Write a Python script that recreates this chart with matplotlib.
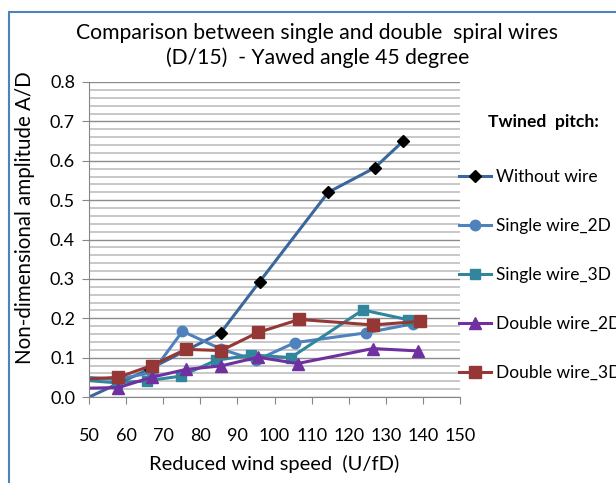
import matplotlib.pyplot as plt
import matplotlib.patches as patches
from matplotlib.ticker import MultipleLocator

plt.rcParams['font.family'] = ['Lato', 'DejaVu Sans']

# data
x_without = [48, 66.5, 85.5, 96, 114.5, 127, 134.7]
y_without = [-0.009, 0.072, 0.163, 0.293, 0.520, 0.582, 0.650]

x_single2 = [48, 57.5, 67, 75.2, 85.5, 95, 105.5, 124.7, 137.4]
y_single2 = [0.051, 0.045, 0.062, 0.167, 0.122, 0.093, 0.138, 0.163, 0.186]

x_single3 = [48, 57.5, 65.5, 74.8, 84.2, 93.8, 104.4, 123.8, 136.1]
y_single3 = [0.043, 0.036, 0.041, 0.053, 0.093, 0.107, 0.100, 0.221, 0.196]

x_double2 = [48, 57.9, 66.9, 76.1, 85.6, 95.6, 106.2, 126.5, 138.8]
y_double2 = [0.022, 0.024, 0.050, 0.070, 0.079, 0.101, 0.085, 0.123, 0.117]

x_double3 = [48, 57.9, 66.9, 76.1, 85.6, 95.6, 106.7, 126.5, 139.2]
y_double3 = [0.045, 0.050, 0.080, 0.121, 0.118, 0.164, 0.197, 0.183, 0.192]

labels = ['Without wire', 'Single wire_2D', 'Single wire_3D', 'Double wire_2D', 'Double wire_3D']

fig = plt.figure(figsize=(6.16, 4.83), dpi=100)
ax = fig.add_axes([89/616, 1 - 397/483, 371/616, 315/483])

lw = 2.2
l1, = ax.plot(x_without, y_without, color='#3A679C', lw=lw, marker='D', ms=6,
              mfc='black', mec='black', label=labels[0])
l2, = ax.plot(x_single2, y_single2, color='#4F81BD', lw=lw, marker='o', ms=7.5,
              label=labels[1])
l3, = ax.plot(x_single3, y_single3, color='#31859C', lw=lw, marker='s', ms=7.5,
              label=labels[2])
l4, = ax.plot(x_double2, y_double2, color='#7030A0', lw=lw, marker='^', ms=8,
              label=labels[3])
l5, = ax.plot(x_double3, y_double3, color='#953735', lw=lw, marker='s', ms=8.5,
              label=labels[4])

ax.set_xlim(50, 150)
ax.set_ylim(0, 0.8)
ax.xaxis.set_major_locator(MultipleLocator(10))
ax.yaxis.set_major_locator(MultipleLocator(0.1))
ax.yaxis.set_minor_locator(MultipleLocator(0.02))
ax.yaxis.set_major_formatter(lambda v, p: f'{v:.1f}')

ax.grid(axis='y', which='minor', color='#C8C8C8', lw=1.4)
ax.grid(axis='y', which='major', color='#8C8C8C', lw=1.0)
ax.set_axisbelow(True)
for s in ['top', 'right']:
    ax.spines[s].set_visible(False)
for s in ['left', 'bottom']:
    ax.spines[s].set_color('#868686')
ax.tick_params(axis='both', which='major', length=5, color='#868686', labelsize=13)
ax.tick_params(axis='y', which='minor', length=0)
ax.tick_params(axis='x', pad=17)
ax.tick_params(axis='y', pad=5)

ax.set_xlabel('Reduced wind speed  (U/fD)', fontsize=14.5, labelpad=8)
ax.set_ylabel('Non-dimensional amplitude A/D', fontsize=14.8)
ax.yaxis.set_label_coords((35 - 89) / 371, (397 - 218) / 315)

fig.text(0.515, 1 - 33/483, 'Comparison between single and double  spiral wires',
         ha='center', va='center', fontsize=15.2)
fig.text(0.515, 1 - 58/483, '(D/15)  - Yawed angle 45 degree',
         ha='center', va='center', fontsize=15.2)

fig.text(488/616, 1 - 122/483, 'Twined  pitch:', fontsize=12.6, fontweight='bold',
         ha='left', va='center')

fig.legend([l1, l2, l3, l4, l5], labels, loc='upper left',
           bbox_to_anchor=(459/616, 1 - 169/483), frameon=False,
           fontsize=12.5, labelspacing=1.9, handlelength=1.84,
           handletextpad=0.3, borderpad=0, borderaxespad=0, markerscale=1.0)

# chart border (only top and left edges fall inside the picture)
fig.patches.append(patches.Rectangle((9/616, -0.2), 1.5, 1.2 - 12/483,
                                     transform=fig.transFigure, fill=False,
                                     edgecolor='#4F81BD', lw=1.5))

fig.savefig('out.png', dpi=100)
